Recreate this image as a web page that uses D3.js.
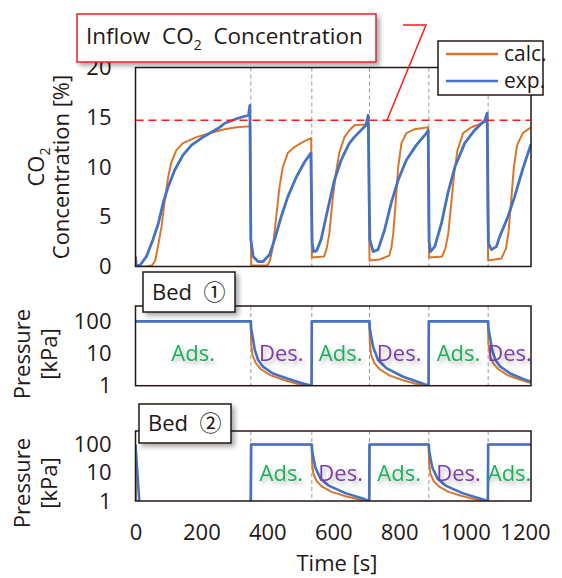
<!DOCTYPE html>
<html>
<head>
<meta charset="utf-8">
<script src="https://cdn.jsdelivr.net/npm/d3@7"></script>
<style>
  body { margin: 0; background: #fff; }
  svg text { font-family: "Open Sans", "Noto Sans CJK JP", sans-serif; fill: #231815; }
</style>
</head>
<body>
<svg id="chart" width="562" height="578"></svg>
<script>
// ---- data ----
var timeTicks = [0, 200, 400, 600, 800, 1000, 1200];
var co2Ticks = [0, 5, 10, 15, 20];
var pressureTicks = [1, 10, 100];
var switchTimes = [350, 535, 710, 890, 1070];
var inflowCO2 = 14.7;
var bed1Phases = ["Ads.", "Des.", "Ads.", "Des.", "Ads.", "Des."];
var bed2Phases = ["", "Ads.", "Des.", "Ads.", "Des.", "Ads."];

// [time s, CO2 %]
var calcCO2 = [[0,0],[30,0],[50,0.1],[60,0.6],[68,2.0],[79,4.0],[89,6.7],[99,9.0],[109,10.5],[124,11.7],[144,12.4],[185,13.0],[235,13.5],[270,13.8],[306,14.0],[348,14.1],
  [349,6.7],[351,0.1],[400,0.1],[408,0.6],[417,2.0],[427,5.0],[437,8.0],[447,10.0],[462,11.4],[482,12.0],[507,12.5],[533,12.9],
  [535,0.9],[572,1.0],[580,1.8],[588,3.3],[598,6.7],[608,9.4],[618,11.4],[634,13.0],[649,13.7],[664,14.2],[707,14.3],
  [708,6.4],[710,0.6],[740,0.7],[770,1.1],[777,2.0],[782,3.3],[790,6.7],[797,10.0],[807,12.4],[822,13.4],[847,13.8],[888,14.0],
  [889,5.5],[891,0.9],[930,1.0],[940,1.8],[949,3.3],[959,6.7],[967,9.4],[977,11.7],[994,13.4],[1019,14.0],[1067,14.6],
  [1068,6.0],[1070,0.6],[1110,0.8],[1124,1.8],[1132,3.5],[1140,6.7],[1148,10.0],[1158,12.2],[1175,13.4],[1200,14.0]];
var expCO2 = [[0,1.0],[2,0.1],[13,0.1],[33,1.0],[53,2.7],[69,4.3],[84,6.4],[99,8.0],[119,9.7],[144,11.2],[170,12.2],[205,13.0],[256,14.0],[271,14.4],[311,14.9],[343,15.2],[347,16.2],
  [350,2.7],[357,1.0],[372,0.5],[387,0.5],[407,1.2],[422,2.7],[442,5.0],[462,7.0],[488,9.0],[513,10.5],[532,11.4],
  [536,2.4],[540,1.5],[550,1.6],[563,2.7],[583,5.7],[603,8.6],[623,10.6],[634,11.4],[649,12.4],[664,13.0],[699,14.2],[706,15.2],
  [711,2.7],[721,1.5],[736,1.7],[756,3.7],[776,6.4],[797,8.7],[822,10.7],[852,12.2],[883,13.4],[888,13.7],
  [891,2.5],[895,1.5],[908,2.0],[928,4.3],[948,7.4],[969,10.0],[999,12.4],[1029,13.7],[1060,14.7],[1067,15.4],
  [1071,2.3],[1080,1.7],[1095,2.0],[1105,3.0],[1130,5.0],[1150,7.0],[1175,9.8],[1200,12.3]];

// [time s, pressure kPa]
var bed1Exp = [[0,100],[350,100],[351,60],[357,27],[362,13],[372,6.3],[387,3.9],[417,2.4],[458,1.7],[498,1.25],[534,1.0],
  [535,100],[710,100],[711,60],[716,30],[721,16],[736,6.3],[761,3.5],[812,1.9],[862,1.25],[889,1.0],
  [890,100],[1070,100],[1071,60],[1077,27],[1082,13],[1092,6.3],[1107,3.9],[1137,2.4],[1178,1.6],[1200,1.35]];
var bed1Calc = [[0,100],[349,100],[351,20],[355,9],[365,5],[380,3.3],[410,2.1],[450,1.5],[490,1.15],[520,1.0],[535,1.0],
  [535,100],[709,100],[711,20],[715,9],[725,5],[740,3.3],[770,2.1],[810,1.5],[850,1.15],[880,1.0],[890,1.0],
  [890,100],[1069,100],[1071,20],[1075,9],[1085,5],[1100,3.3],[1130,2.1],[1170,1.5],[1200,1.2]];
var bed2Exp = [[0,100],[12,0.8],[350,0.8],[351,100],[535,100],[536,60],[541,28],[546,15],[561,6.3],[586,3.5],[637,1.9],[687,1.25],[709,1.0],
  [710,100],[890,100],[891,60],[896,28],[901,15],[916,6.3],[941,3.5],[992,1.9],[1042,1.25],[1069,1.0],[1070,100],[1200,100]];
var bed2Calc = [[0,100],[2,0.8],[349,0.8],[350,100],[534,100],[536,20],[540,9],[550,5],[565,3.3],[595,2.1],[635,1.5],[675,1.15],[700,1.0],[710,1.0],
  [710,100],[889,100],[891,20],[895,9],[905,5],[920,3.3],[950,2.1],[990,1.5],[1030,1.15],[1060,1.0],[1070,1.0],[1070,100],[1200,100]];

var calcColor = "#DA762C";
var expColor = "#4472C4";
var adsColor = "#1BAF5B";
var desColor = "#7D3CA8";
var ink = "#231815";

var svg = d3.select("#chart");
var defs = svg.append("defs");
defs.append("filter").attr("id", "shadow")
    .attr("x", "-20%").attr("y", "-30%").attr("width", "150%").attr("height", "170%")
  .append("feDropShadow")
    .attr("dx", 3).attr("dy", 3).attr("stdDeviation", 2.5)
    .attr("flood-color", "#000").attr("flood-opacity", 0.35);
defs.append("filter").attr("id", "textShadow")
    .attr("x", "-20%").attr("y", "-30%").attr("width", "150%").attr("height", "180%")
  .append("feDropShadow")
    .attr("dx", 2).attr("dy", 3).attr("stdDeviation", 2)
    .attr("flood-color", "#000").attr("flood-opacity", 0.3);

var x = d3.scaleLinear().domain([0, 1200]).range([135.5, 531]);
var yCO2 = d3.scaleLinear().domain([0, 20]).range([266.5, 67.5]);
var yBed1 = d3.scaleLog().domain([1, 300]).range([385.7, 306]);
var yBed2 = d3.scaleLog().domain([1, 300]).range([501, 431]);

function drawPanel(id, y, series) {
  var y0 = y.range()[0], y1 = y.range()[1];
  var g = svg.append("g");
  defs.append("clipPath").attr("id", "clip-" + id)
    .append("rect").attr("x", x.range()[0]).attr("y", y1)
    .attr("width", x.range()[1] - x.range()[0]).attr("height", y0 - y1);

  g.selectAll(".switch").data(switchTimes).enter().append("line")
    .attr("x1", function(d) { return x(d); }).attr("x2", function(d) { return x(d); })
    .attr("y1", y1).attr("y2", y0)
    .attr("stroke", "#9a9a9a").attr("stroke-width", 1).attr("stroke-dasharray", "4,3");

  var line = d3.line().x(function(d) { return x(d[0]); }).y(function(d) { return y(d[1]); });
  var lines = g.append("g").attr("clip-path", "url(#clip-" + id + ")");
  series.forEach(function(s) {
    lines.append("path").datum(s.data)
      .attr("d", line).attr("fill", "none")
      .attr("stroke", s.color).attr("stroke-width", s.width)
      .attr("stroke-linejoin", "round");
  });

  g.append("rect").attr("x", x.range()[0]).attr("y", y1)
    .attr("width", x.range()[1] - x.range()[0]).attr("height", y0 - y1)
    .attr("fill", "none").attr("stroke", ink).attr("stroke-width", 1.5);
  return g;
}

function styleAxis(g) {
  g.select(".domain").remove();
  g.selectAll("text").style("font-size", "22px").attr("fill", ink);
}

// ---- top: CO2 concentration ----
var co2Panel = drawPanel("co2", yCO2, [
  { data: calcCO2, color: calcColor, width: 2 },
  { data: expCO2, color: expColor, width: 2.8 }
]);
co2Panel.append("line")
  .attr("x1", x(0)).attr("x2", x(1200))
  .attr("y1", yCO2(inflowCO2)).attr("y2", yCO2(inflowCO2))
  .attr("stroke", "#FF1A1A").attr("stroke-width", 1.5).attr("stroke-dasharray", "8,5");

svg.append("g").attr("transform", "translate(" + x(0) + ",0)")
  .call(d3.axisLeft(yCO2).tickValues(co2Ticks).tickSize(0).tickPadding(24))
  .call(styleAxis);

// ---- pressure panels ----
drawPanel("bed1", yBed1, [
  { data: bed1Calc, color: calcColor, width: 2 },
  { data: bed1Exp, color: expColor, width: 2.6 }
]);
drawPanel("bed2", yBed2, [
  { data: bed2Calc, color: calcColor, width: 2 },
  { data: bed2Exp, color: expColor, width: 2.6 }
]);
[yBed1, yBed2].forEach(function(y) {
  svg.append("g").attr("transform", "translate(" + x(0) + ",0)")
    .call(d3.axisLeft(y).tickValues(pressureTicks).tickFormat(d3.format("d")).tickSize(0).tickPadding(24))
    .call(styleAxis);
});

svg.append("g").attr("transform", "translate(0," + yBed2.range()[0] + ")")
  .call(d3.axisBottom(x).tickValues(timeTicks).tickFormat(d3.format("d")).tickSize(0).tickPadding(23))
  .call(styleAxis)
  .selectAll("text").attr("dx", function(d) { return d === 1200 ? "-6" : null; });

// phase labels
var bounds = [0].concat(switchTimes, [1200]);
function phaseLabels(phases, y) {
  svg.append("g").selectAll("text").data(phases).enter().append("text")
    .attr("x", function(d, i) { return x((bounds[i] + bounds[i + 1]) / 2); })
    .attr("y", y(10)).attr("dy", "0.36em")
    .attr("text-anchor", "middle").style("font-size", "22px")
    .style("fill", function(d) { return d === "Ads." ? adsColor : desColor; })
    .attr("filter", "url(#textShadow)")
    .text(function(d) { return d; });
}
phaseLabels(bed1Phases, yBed1);
phaseLabels(bed2Phases, yBed2);

// ---- axis titles ----
function rotatedTitle(cx, cy, build) {
  var t = svg.append("text").attr("transform", "translate(" + cx + "," + cy + ") rotate(-90)")
    .attr("text-anchor", "middle").style("font-size", "22px");
  build(t);
}
rotatedTitle(44, 167, function(t) {
  t.append("tspan").text("CO");
  t.append("tspan").text("2").style("font-size", "14px").attr("dy", 6);
});
rotatedTitle(69, 167, function(t) { t.text("Concentration [%]"); });
rotatedTitle(30, 354, function(t) { t.text("Pressure"); });
rotatedTitle(57, 354, function(t) { t.text("[kPa]"); });
rotatedTitle(30, 483, function(t) { t.text("Pressure"); });
rotatedTitle(57, 483, function(t) { t.text("[kPa]"); });

svg.append("text").attr("x", 337).attr("y", 571).attr("text-anchor", "middle")
  .style("font-size", "22px").text("Time [s]");

// ---- bed boxes ----
function bedBox(bx, by, w, h, mark) {
  svg.append("rect").attr("x", bx).attr("y", by).attr("width", w).attr("height", h)
    .attr("fill", "#fff").attr("stroke", ink).attr("stroke-width", 1.5)
    .attr("filter", "url(#shadow)");
  var t = svg.append("text").attr("x", bx + 9).attr("y", by + h / 2).attr("dy", "0.36em")
    .style("font-size", "22px");
  t.append("tspan").text("Bed\u00a0\u00a0");
  t.append("tspan").style("font-family", "'Noto Sans CJK JP'").text(mark);
}
bedBox(143, 272, 92, 40, "\u2460");
bedBox(139, 404, 92, 39, "\u2461");

// ---- inflow annotation ----
svg.append("polyline")
  .attr("points", [[403, 25], [426, 25], [387, yCO2(inflowCO2)]].join(" "))
  .attr("fill", "none").attr("stroke", "#FF1A1A").attr("stroke-width", 1.5);
svg.append("rect").attr("x", 77).attr("y", 14).attr("width", 299).attr("height", 48)
  .attr("fill", "#fff").attr("stroke", "#E8202A").attr("stroke-width", 1.5)
  .attr("filter", "url(#shadow)");
var title = svg.append("text").attr("x", 86).attr("y", 44).style("font-size", "22.5px");
title.append("tspan").text("Inflow\u00a0\u00a0CO");
title.append("tspan").text("2").style("font-size", "14px").attr("dy", 6);
title.append("tspan").text("\u00a0\u00a0Concentration").attr("dy", -6);

// ---- legend ----
var legendItems = [{ label: "calc.", color: calcColor }, { label: "exp.", color: expColor }];
var legend = svg.append("g");
legend.append("rect").attr("x", 438).attr("y", 41).attr("width", 105).attr("height", 54)
  .attr("fill", "#fff").attr("stroke", ink).attr("stroke-width", 1.5);
var li = legend.selectAll(".item").data(legendItems).enter().append("g")
  .attr("transform", function(d, i) { return "translate(0," + (54 + i * 27) + ")"; });
li.append("line").attr("x1", 446).attr("x2", 498)
  .attr("stroke", function(d) { return d.color; }).attr("stroke-width", 2.5);
li.append("text").attr("x", 504).attr("dy", "0.33em").style("font-size", "21px")
  .text(function(d) { return d.label; });
</script>
</body>
</html>
